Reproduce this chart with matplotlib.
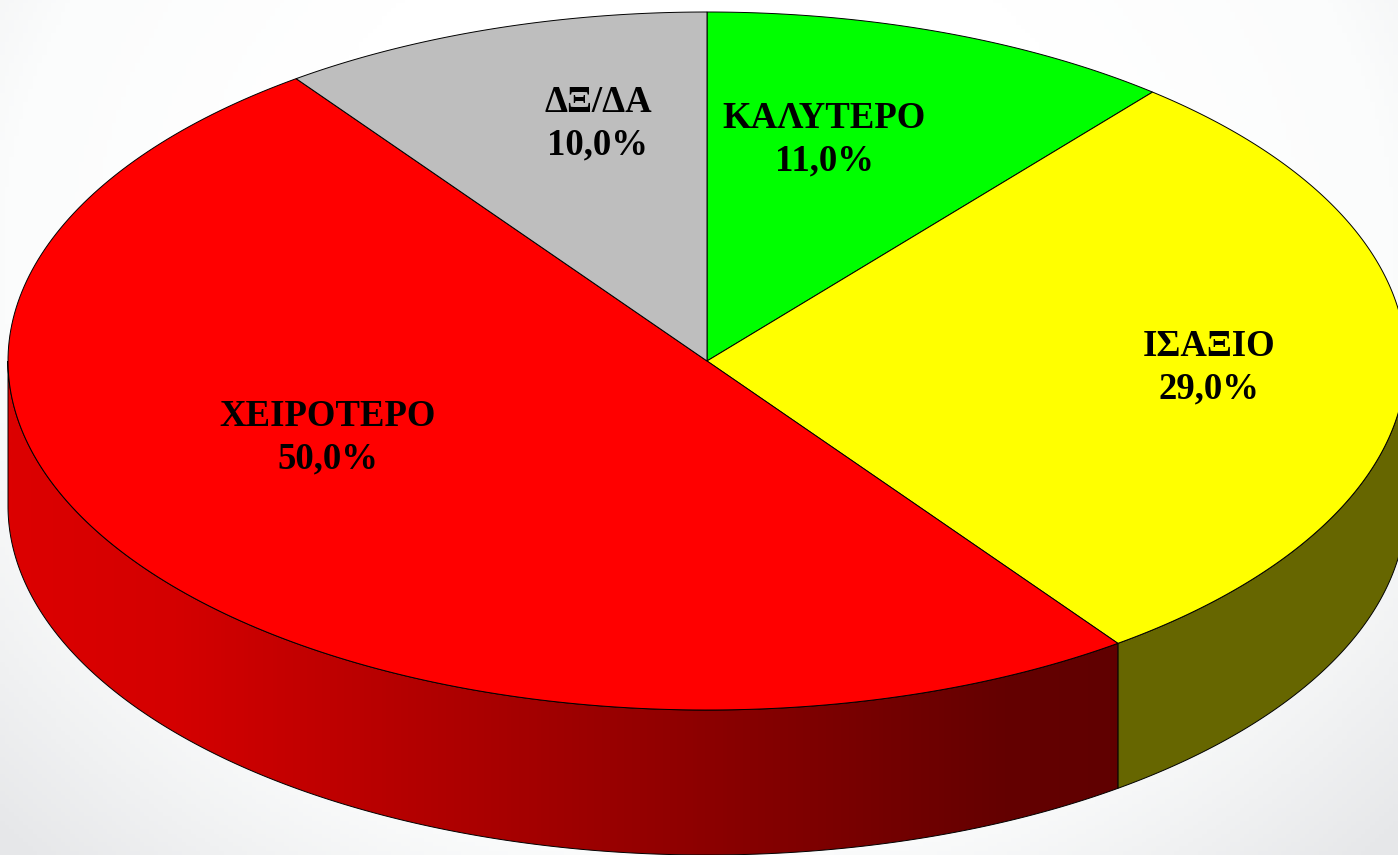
import numpy as np
import matplotlib
matplotlib.use("Agg")
import matplotlib.pyplot as plt
from matplotlib.colors import LinearSegmentedColormap
from matplotlib.path import Path
from matplotlib.patches import PathPatch

categories = ["ΚΑΛΥΤΕΡΟ", "ΙΣΑΞΙΟ", "ΧΕΙΡΟΤΕΡΟ", "ΔΞ/ΔΑ"]
values = [11.0, 29.0, 50.0, 10.0]
colors = ["#00ff00", "#ffff00", "#ff0000", "#bebebe"]
label_xy = [(824, 140), (1209, 368), (328, 438), (598, 124)]

W, H = 1398, 855
CX, CY, RX, RY, DEPTH = 707, 361, 699, 349, 145

fig = plt.figure(figsize=(W / 100, H / 100), dpi=100)
ax = fig.add_axes([0, 0, 1, 1])
ax.set_xlim(0, W)
ax.set_ylim(H, 0)
ax.axis("off")

# backdrop
yy, xx = np.mgrid[0:1:200j, 0:1:300j]
d = np.sqrt(((xx - 0.5) / 0.5) ** 2 + ((yy - 0.3) / 0.7) ** 2)
bg = LinearSegmentedColormap.from_list("bg", ["#ffffff", "#fbfcfc", "#e6e7e9"])
ax.imshow(d, extent=(0, W, H, 0), cmap=bg, vmin=0.6, vmax=1.4, aspect="auto", zorder=0)

fr = np.cumsum([0] + values) / sum(values) * 2 * np.pi


def px(t):
    return CX + RX * np.sin(t), CY - RY * np.cos(t)


# side wall: yellow and red slices, only where the wall faces the viewer
t_y = np.linspace(max(fr[1], np.pi / 2), fr[2], 120)
xs, ys = px(t_y)
ax.fill(np.r_[xs, xs[::-1]], np.r_[ys, ys[::-1] + DEPTH], fc="#666600", ec="black", lw=0.7, zorder=1)

t_r = np.linspace(fr[2], 1.5 * np.pi, 300)
xs, ys = px(t_r)
verts = np.c_[np.r_[xs, xs[::-1]], np.r_[ys, ys[::-1] + DEPTH]]
clip = PathPatch(Path(np.r_[verts, verts[:1]], closed=True), fc="none", ec="none", transform=ax.transData)
ax.add_patch(clip)
grad = LinearSegmentedColormap.from_list(
    "wall",
    [(0.0, "#dc0000"), (0.15, "#d40000"), (0.36, "#b40000"), (0.63, "#8c0000"),
     (0.9, "#640000"), (1.0, "#600000")],
)
im = ax.imshow(np.linspace(0, 1, 400)[None, :], extent=(xs.min(), xs.max(), H, 0), cmap=grad,
               aspect="auto", zorder=1)
im.set_clip_path(clip)
ax.fill(verts[:, 0], verts[:, 1], fc="none", ec="black", lw=0.7, zorder=2)

# top face
for a, b, c in zip(fr[:-1], fr[1:], colors):
    xs, ys = px(np.linspace(a, b, 200))
    ax.fill(np.r_[CX, xs], np.r_[CY, ys], fc=c, ec="black", lw=0.7, zorder=3)

for name, v, (x, y) in zip(categories, values, label_xy):
    ax.text(x, y, f"{name}\n{v:.1f}%".replace(".", ","), ha="center", va="center", ma="center",
            family="Liberation Serif", weight="bold", fontsize=26.5, color="black",
            linespacing=1.28, zorder=4)

ax.set_xlim(0, W)
ax.set_ylim(H, 0)
fig.savefig("out.png", dpi=100)
